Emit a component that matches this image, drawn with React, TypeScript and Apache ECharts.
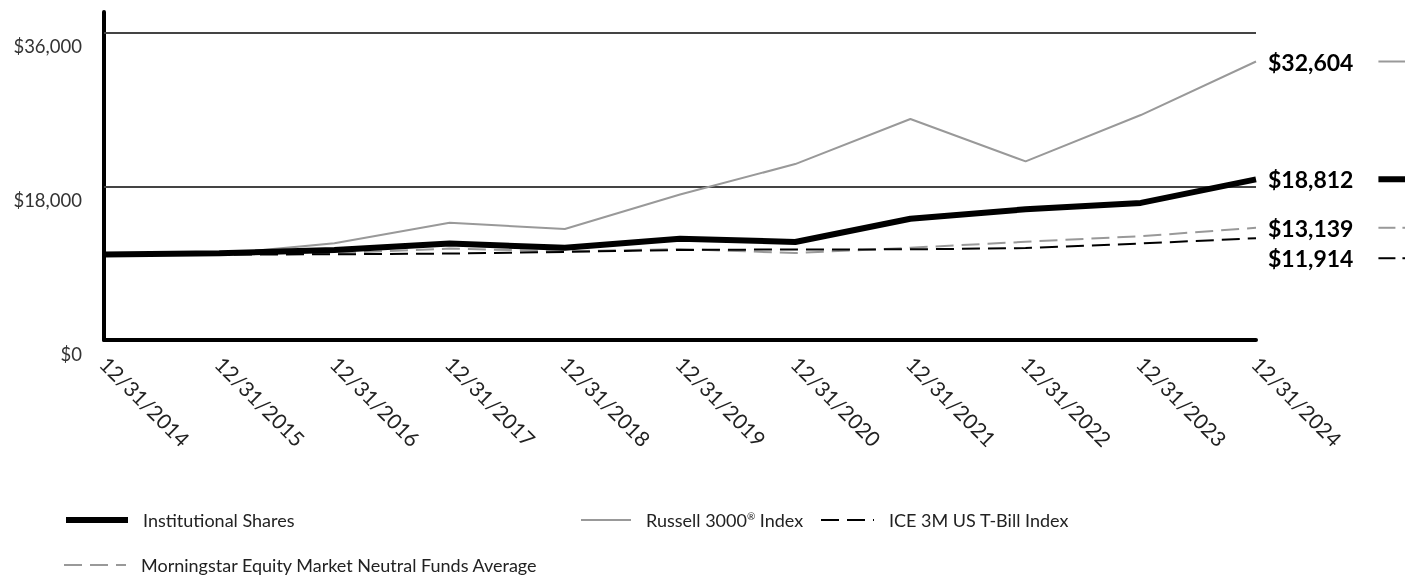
import React, { useEffect, useRef } from 'react';
import * as echarts from 'echarts';

const categories = ['12/31/2014', '12/31/2015', '12/31/2016', '12/31/2017', '12/31/2018', '12/31/2019', '12/31/2020', '12/31/2021', '12/31/2022', '12/31/2023', '12/31/2024'];
const institutional = [10000, 10150, 10550, 11300, 10800, 11850, 11480, 14200, 15300, 16050, 18812];
const russell = [10000, 10048, 11328, 13722, 13003, 17036, 20595, 25879, 20908, 26336, 32604];
const tbill = [10000, 10003, 10036, 10122, 10310, 10540, 10606, 10611, 10761, 11302, 11914];
const morningstar = [10000, 10050, 10150, 10700, 10380, 10650, 10180, 10800, 11500, 12150, 13139];
const gridValues = [18000, 36000];
const yStep = 18000;
const yMax = 38400;

const NAMES = {
  inst: 'Institutional Shares',
  russell: 'Russell 3000® Index',
  tbill: 'ICE 3M US T-Bill Index',
  ms: 'Morningstar Equity Market Neutral Funds Average',
};

const FONT = 'Lato, "Open Sans", sans-serif';
const fmt = (v: number) => '$' + Math.round(v).toLocaleString('en-US');

function endLabel(color: string, dashed: boolean, thick: number, offsetY = 0) {
  const rich: any = {
    v: { fontFamily: FONT, fontWeight: 'bold', fontSize: 23, color: '#000' },
    g: { width: 25, height: 2 },
    l: { width: 40, height: thick, backgroundColor: color },
    d: { width: 17, height: thick, backgroundColor: color },
    s: { width: 7, height: thick },
  };
  return {
    show: true,
    distance: 12,
    offset: [0, offsetY],
    formatter: (p: any) => `{v|${fmt(p.value)}}{g| }` + (dashed ? '{d| }{s| }{d| }' : '{l| }'),
    rich,
  };
}

function legendItem(name: string, left: number, top: number, width: number, lineWidth: number) {
  return {
    data: [name],
    left,
    top,
    padding: 0,
    orient: 'horizontal',
    selectedMode: false,
    itemWidth: width,
    itemHeight: 14,
    lineStyle: { width: lineWidth },
    itemStyle: { color: 'rgba(0,0,0,0)', borderColor: 'rgba(0,0,0,0)', borderWidth: 0 },
    formatter: (n: string) => n.replace('®', '{sup|®}'),
    textStyle: {
      fontFamily: FONT,
      fontSize: 18,
      color: '#222',
      padding: [0, 0, 0, 10],
      rich: { sup: { fontFamily: FONT, fontSize: 10, color: '#222', verticalAlign: 'top', padding: [0, 0, 6, 0] } },
    },
  };
}

export default function App() {
  const ref = useRef<HTMLDivElement>(null);
  useEffect(() => {
    if (!ref.current) return;
    const chart = echarts.init(ref.current, null, { renderer: 'svg' });
    chart.setOption({
      animation: false,
      grid: { left: 104, right: 149, top: 12, bottom: 237, containLabel: false },
      legend: [
        legendItem(NAMES.inst, 63, 511, 62, 6),
        legendItem(NAMES.russell, 580, 511, 50, 2),
        legendItem(NAMES.tbill, 820, 511, 53, 2),
        legendItem(NAMES.ms, 63, 556, 62, 2),
      ],
      xAxis: {
        type: 'category',
        data: categories,
        boundaryGap: false,
        axisLine: { show: true, lineStyle: { color: '#000', width: 4 } },
        axisTick: { show: false },
        axisLabel: { rotate: -45, margin: 20, fontFamily: FONT, fontSize: 21, color: '#222', interval: 0 },
        splitLine: { show: false },
      },
      yAxis: {
        type: 'value',
        min: 0,
        max: yMax,
        interval: yStep,
        axisLine: { show: true, lineStyle: { color: '#000', width: 4 } },
        axisTick: { show: false },
        splitLine: { show: false },
        axisLabel: {
          margin: 22,
          fontFamily: FONT,
          fontSize: 18.5,
          color: '#333',
          verticalAlign: 'top',
          padding: [4, 0, 0, 0],
          formatter: (v: number) => (v % yStep === 0 ? fmt(v) : ''),
        },
      },
      series: [
        {
          name: NAMES.russell,
          type: 'line',
          data: russell,
          symbol: 'none',
          lineStyle: { color: '#999', width: 2 },
          itemStyle: { color: '#999' },
          endLabel: endLabel('#999', false, 2),
          markLine: {
            silent: true,
            symbol: 'none',
            label: { show: false },
            lineStyle: { color: '#444', width: 2, type: 'solid' },
            data: gridValues.map((v) => ({ yAxis: v })),
            z: 1,
          },
          z: 3,
        },
        {
          name: NAMES.ms,
          type: 'line',
          data: morningstar,
          symbol: 'none',
          lineStyle: { color: '#999', width: 2, type: [18, 8] },
          itemStyle: { color: '#999' },
          endLabel: endLabel('#999', true, 2),
          z: 4,
        },
        {
          name: NAMES.tbill,
          type: 'line',
          data: tbill,
          symbol: 'none',
          lineStyle: { color: '#000', width: 2, type: [18, 8] },
          itemStyle: { color: '#000' },
          endLabel: endLabel('#000', true, 2, 20),
          z: 5,
        },
        {
          name: NAMES.inst,
          type: 'line',
          data: institutional,
          symbol: 'none',
          lineStyle: { color: '#000', width: 6 },
          itemStyle: { color: '#000' },
          endLabel: endLabel('#000', false, 6),
          z: 6,
        },
      ],
    });
    return () => chart.dispose();
  }, []);
  return <div ref={ref} style={{ position: 'fixed', left: 0, top: 0, width: 1405, height: 577 }} />;
}
